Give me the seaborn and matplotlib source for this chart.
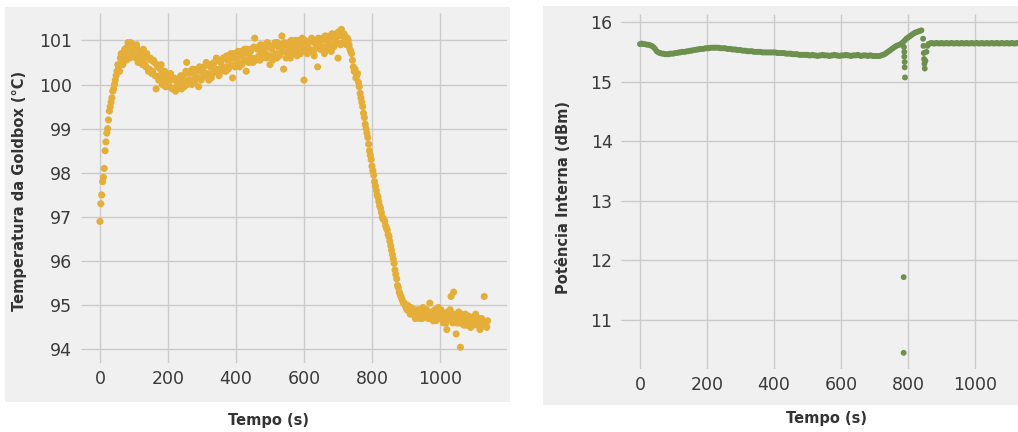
import numpy as np
import matplotlib
matplotlib.use("Agg")
import matplotlib.pyplot as plt
import seaborn as sns
from matplotlib.patches import Rectangle

# ---------------- data ----------------
# Goldbox temperature, logger A (every 5 s)
temp_time_a = np.arange(0, 1145, 5)
temp_values_a = [
    96.9, 97.5, 97.9, 98.5, 98.9, 99.2, 99.5, 99.7, 99.9, 100.1,
    100.3, 100.4, 100.6, 100.5, 100.7, 100.6, 100.85, 100.7, 100.95, 100.75,
    100.85, 100.6, 100.8, 100.55, 100.7, 100.45, 100.65, 100.4, 100.6, 100.35,
    100.55, 100.3, 100.5, 99.9, 100.4, 100.2, 100.45, 100.1, 100.3, 100.05,
    100.2, 99.95, 100.15, 99.9, 100.1, 99.95, 100.0, 100.15, 99.9, 100.2,
    100.05, 100.5, 100.1, 100.3, 100.0, 100.25, 100.1, 100.35, 99.95, 100.3,
    100.15, 100.4, 100.2, 100.45, 100.1, 100.4, 100.25, 100.5, 100.3, 100.55,
    100.2, 100.5, 100.35, 100.6, 100.3, 100.55, 100.4, 100.7, 100.15, 100.6,
    100.45, 100.75, 100.4, 100.65, 100.5, 100.8, 100.3, 100.7, 100.55, 100.8,
    100.5, 101.05, 100.6, 100.85, 100.55, 100.75, 100.65, 100.9, 100.6, 100.85,
    100.45, 100.8, 100.65, 100.95, 100.6, 100.85, 100.7, 101.1, 100.35, 100.9,
    100.7, 100.95, 100.6, 100.85, 100.75, 101.0, 100.65, 100.9, 100.7, 101.05,
    100.1, 100.85, 100.7, 100.95, 100.75, 101.0, 100.65, 100.9, 100.4, 100.95,
    100.8, 101.05, 100.7, 101.0, 100.85, 101.1, 100.75, 101.05, 100.9, 101.15,
    100.6, 101.1, 101.25, 100.95, 101.1, 100.9, 101.0, 100.8, 100.7, 100.4,
    100.35, 100.2, 100.05, 99.8, 99.6, 99.35, 99.1, 98.9, 98.65, 98.4,
    98.15, 97.95, 97.7, 97.5, 97.35, 97.2, 97.0, 96.95, 96.8, 96.7,
    96.55, 96.35, 96.15, 95.95, 95.7, 95.45, 95.3, 95.2, 95.1, 95.05,
    94.95, 95.0, 94.85, 94.95, 94.8, 94.9, 94.75, 94.9, 94.7, 94.85,
    94.95, 94.75, 94.9, 94.7, 95.05, 94.8, 94.65, 94.9, 94.75, 94.95,
    94.7, 94.85, 94.6, 94.8, 94.45, 94.75, 94.9, 94.65, 95.3, 94.7,
    94.6, 94.85, 94.05, 94.7, 94.55, 94.8, 94.6, 94.75, 94.5, 94.7,
    94.6, 94.8, 94.55, 94.7, 94.5, 94.65, 95.2, 94.55, 94.65,
]

# Goldbox temperature, logger B (every 5 s, offset by 2.5 s)
temp_time_b = np.arange(2.5, 1140, 5)
temp_values_b = [
    97.3, 97.8, 98.1, 98.7, 99.0, 99.4, 99.6, 99.85, 100.0, 100.2,
    100.45, 100.3, 100.7, 100.45, 100.8, 100.55, 100.95, 100.6, 100.85, 100.9,
    100.65, 100.9, 100.5, 100.75, 100.55, 100.8, 100.45, 100.7, 100.3, 100.6,
    100.25, 100.55, 100.2, 100.45, 100.1, 100.35, 100.0, 100.25, 99.95, 100.2,
    100.05, 100.25, 99.9, 100.15, 99.85, 100.1, 99.95, 100.2, 100.05, 99.95,
    100.3, 100.0, 100.25, 100.1, 100.35, 100.05, 100.3, 100.15, 100.4, 100.1,
    100.35, 100.2, 100.5, 100.25, 100.45, 100.15, 100.45, 100.3, 100.6, 100.35,
    100.55, 100.3, 100.6, 100.4, 100.65, 100.35, 100.6, 100.45, 100.7, 100.4,
    100.65, 100.5, 100.75, 100.45, 100.7, 100.55, 100.8, 100.5, 100.75, 100.6,
    100.85, 100.55, 100.8, 100.65, 100.9, 100.6, 100.8, 100.7, 100.95, 100.65,
    100.85, 100.55, 100.9, 100.7, 100.95, 100.65, 100.9, 100.75, 100.95, 100.6,
    100.85, 100.75, 101.0, 100.7, 100.9, 100.8, 101.0, 100.7, 100.95, 100.8,
    101.0, 100.75, 100.95, 100.8, 101.05, 100.75, 100.95, 100.85, 101.05, 100.8,
    101.0, 100.85, 101.1, 100.8, 101.0, 100.9, 101.15, 100.85, 101.05, 100.95,
    101.2, 100.9, 101.1, 101.15, 100.95, 101.05, 100.9, 100.75, 100.55, 100.3,
    100.15, 100.25, 99.95, 99.7, 99.5, 99.25, 99.0, 98.8, 98.5, 98.3,
    98.05, 97.8, 97.6, 97.45, 97.25, 97.1, 96.95, 96.9, 96.75, 96.6,
    96.45, 96.25, 96.05, 95.8, 95.6, 95.4, 95.25, 95.15, 95.05, 95.0,
    94.9, 94.95, 94.8, 94.9, 94.85, 94.7, 94.85, 94.75, 94.9, 94.7,
    94.8, 94.9, 94.75, 94.85, 94.7, 94.85, 94.8, 94.65, 94.85, 94.75,
    94.9, 94.7, 94.75, 94.6, 94.85, 94.7, 95.2, 94.6, 94.8, 94.35,
    94.75, 94.6, 94.8, 94.65, 94.7, 94.55, 94.75, 94.6, 94.7, 94.55,
    94.75, 94.6, 94.65, 94.45, 94.7, 94.55, 94.6, 94.5,
]

# Internal power: slow drift up to the first transient (every 5 s)
power_time_a = np.arange(0, 845, 5)
power_values_a = [
    15.63, 15.64, 15.63, 15.63, 15.62, 15.62, 15.61, 15.60, 15.58, 15.55,
    15.51, 15.49, 15.48, 15.47, 15.47, 15.46, 15.46, 15.46, 15.47, 15.47,
    15.47, 15.48, 15.48, 15.49, 15.49, 15.50, 15.50, 15.50, 15.51, 15.51,
    15.52, 15.52, 15.53, 15.53, 15.54, 15.54, 15.55, 15.55, 15.55, 15.56,
    15.56, 15.56, 15.57, 15.57, 15.57, 15.57, 15.57, 15.57, 15.56, 15.56,
    15.56, 15.56, 15.55, 15.55, 15.55, 15.54, 15.54, 15.54, 15.53, 15.53,
    15.53, 15.52, 15.52, 15.52, 15.51, 15.51, 15.51, 15.51, 15.50, 15.50,
    15.50, 15.50, 15.50, 15.49, 15.49, 15.49, 15.49, 15.49, 15.49, 15.49,
    15.49, 15.49, 15.48, 15.48, 15.48, 15.48, 15.48, 15.47, 15.47, 15.47,
    15.47, 15.46, 15.46, 15.46, 15.46, 15.45, 15.45, 15.45, 15.45, 15.45,
    15.45, 15.44, 15.44, 15.45, 15.44, 15.44, 15.43, 15.44, 15.44, 15.45,
    15.44, 15.44, 15.44, 15.43, 15.44, 15.44, 15.45, 15.44, 15.44, 15.43,
    15.44, 15.44, 15.44, 15.45, 15.44, 15.44, 15.43, 15.44, 15.44, 15.44,
    15.45, 15.44, 15.43, 15.44, 15.44, 15.44, 15.43, 15.44, 15.44, 15.43,
    15.43, 15.43, 15.43, 15.43, 15.44, 15.45, 15.46, 15.48, 15.50, 15.52,
    15.54, 15.56, 15.58, 15.60, 15.61, 15.62, 15.64, 15.66, 15.69, 15.72,
    15.74, 15.76, 15.78, 15.80, 15.82, 15.83, 15.84, 15.85, 15.86,
]

# Transient samples around the two power steps
power_time_b = [787, 788, 789, 789, 790, 790, 791, 787,
                845, 846, 847, 848, 849, 850, 852, 855, 858, 861]
power_values_b = [11.72, 15.58, 15.50, 15.42, 15.33, 15.24, 15.07, 10.45,
                  15.72, 15.60, 15.48, 15.38, 15.30, 15.22, 15.35, 15.50, 15.60, 15.63]

# Settled level after the second step (every 5 s)
power_time_c = np.arange(865, 1145, 5)
power_values_c = [
    15.64, 15.65, 15.64, 15.64, 15.65, 15.64, 15.64, 15.65, 15.64, 15.64,
    15.65, 15.64, 15.64, 15.65, 15.64, 15.64, 15.65, 15.64, 15.64, 15.65,
    15.64, 15.64, 15.65, 15.64, 15.64, 15.65, 15.64, 15.64, 15.65, 15.64,
    15.64, 15.65, 15.64, 15.64, 15.65, 15.64, 15.64, 15.65, 15.64, 15.64,
    15.65, 15.64, 15.64, 15.65, 15.64, 15.64, 15.65, 15.64, 15.64, 15.65,
    15.64, 15.64, 15.65, 15.64, 15.64, 15.65,
]

temp_yticks = [94, 95, 96, 97, 98, 99, 100, 101]
power_yticks = [11, 12, 13, 14, 15, 16]
time_ticks = [0, 200, 400, 600, 800, 1000]

temp_time = np.concatenate([temp_time_a, temp_time_b])
temp_values = np.concatenate([temp_values_a, temp_values_b])
power_time = np.concatenate([power_time_a, power_time_b, power_time_c])
power_values = np.concatenate([power_values_a, power_values_b, power_values_c])

# ---------------- style ----------------
plt.style.use("fivethirtyeight")
sns.set_style({"axes.facecolor": "#f0f0f0", "grid.color": "#cbcbcb"})
plt.rcParams["font.family"] = ["DejaVu Sans"]

W, H = 1018, 432
PANEL = "#f0f0f0"
ORANGE = "#e5ae38"
GREEN = "#6d904f"
TEXT = "#333333"

fig = plt.figure(figsize=(W / 100, H / 100), dpi=100, facecolor="white")


def px_box(x0, y0, x1, y1):
    return [x0 / W, 1 - y1 / H, (x1 - x0) / W, (y1 - y0) / H]


# grey panel backgrounds, drawn beneath the axes
for x0, y0, x1, y1 in [(5, 7, 510, 402), (543, 6, 1018, 405)]:
    fig.patches.append(Rectangle((x0 / W, 1 - y1 / H), (x1 - x0) / W, (y1 - y0) / H,
                                 transform=fig.transFigure, facecolor=PANEL,
                                 edgecolor="none", zorder=-5))

ax1 = fig.add_axes(px_box(80.6, 13, 507, 362.7))
ax2 = fig.add_axes(px_box(620.9, 14.3, 1041, 368.9))

sns.scatterplot(x=temp_time, y=temp_values, ax=ax1, color=ORANGE, s=26,
                edgecolor="none", linewidth=0, zorder=3)
sns.scatterplot(x=power_time, y=power_values, ax=ax2, color=GREEN, s=18,
                edgecolor="none", linewidth=0, zorder=3)

for ax, yt, ylim in [(ax1, temp_yticks, (93.7, 101.62)), (ax2, power_yticks, (10.18, 16.13))]:
    ax.set_facecolor(PANEL)
    ax.set_xlim(-57, 1197)
    ax.set_ylim(*ylim)
    ax.set_xticks(time_ticks)
    ax.set_yticks(yt)
    ax.set_axisbelow(True)
    ax.grid(True, color="#cbcbcb", linewidth=1.0)
    for sp in ax.spines.values():
        sp.set_visible(False)
    ax.tick_params(axis="both", length=0, labelsize=12.5, labelcolor="#3a3a3a")
    ax.tick_params(axis="x", pad=5)
    ax.tick_params(axis="y", pad=6)
    ax.set_xlabel("")
    ax.set_ylabel("")

fig.text(20 / W, 1 - 191 / H, "Temperatura da Goldbox (°C)", rotation=90,
         ha="center", va="center", fontsize=10.5, fontweight="bold", color=TEXT)
fig.text(269 / W, 1 - 420 / H, "Tempo (s)", ha="center", va="center",
         fontsize=10.5, fontweight="bold", color=TEXT)
fig.text(563 / W, 1 - 197 / H, "Potência Interna (dBm)", rotation=90,
         ha="center", va="center", fontsize=10.5, fontweight="bold", color=TEXT)
fig.text(826 / W, 1 - 418 / H, "Tempo (s)", ha="center", va="center",
         fontsize=10.5, fontweight="bold", color=TEXT)

fig.savefig("out.png", dpi=100, facecolor="white")
